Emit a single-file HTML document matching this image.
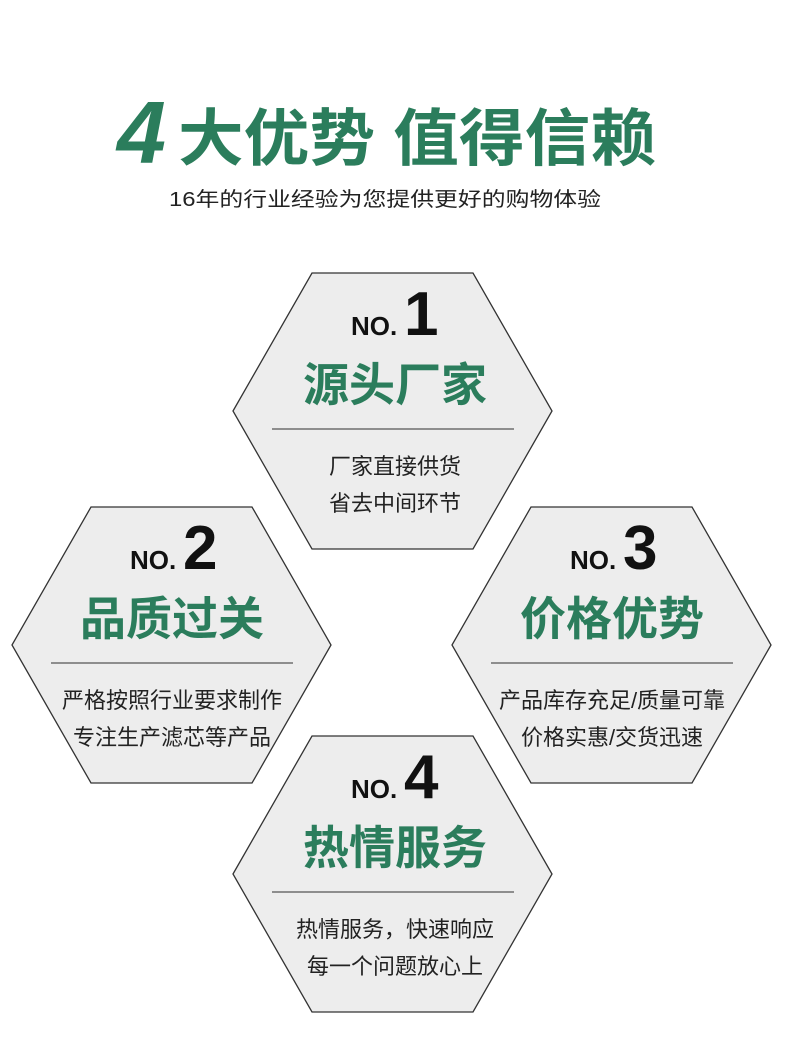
<!DOCTYPE html>
<html><head><meta charset="utf-8"><style>
body{margin:0;background:#fff;}
svg{display:block;}
text{font-family:"Liberation Sans","Noto Sans CJK SC",sans-serif;}
</style></head><body>
<svg width="790" height="1052" viewBox="0 0 790 1052" xmlns="http://www.w3.org/2000/svg">
<rect width="790" height="1052" fill="#fff"/>
<text x="117" y="163" font-size="88" font-weight="bold" font-style="italic" fill="#2b7d5c">4</text>
<text x="178" y="160" font-size="62" font-weight="bold" fill="#2b7d5c" textLength="478" lengthAdjust="spacingAndGlyphs">大优势 值得信赖</text>
<text x="385" y="206" font-size="20" fill="#222" text-anchor="middle" textLength="432" lengthAdjust="spacingAndGlyphs">16年的行业经验为您提供更好的购物体验</text>
<defs>
<g id="hex">
<polygon points="233,411 312,273 473,273 552,411 473,549 312,549" fill="#ededed" stroke="#333" stroke-width="1.3"/>
<line x1="272" y1="429" x2="514" y2="429" stroke="#555" stroke-width="1.2"/>
</g>
</defs>
<g>
<use href="#hex"/>
<text x="351" y="335" font-size="26" font-weight="bold" fill="#111">NO.</text>
<text x="404" y="335" font-size="62" font-weight="bold" fill="#111">1</text>
<text x="395" y="401" font-size="46" font-weight="bold" fill="#2b7d5c" text-anchor="middle">源头厂家</text>
<text x="395" y="474" font-size="22" fill="#222" text-anchor="middle">厂家直接供货</text>
<text x="395" y="511" font-size="22" fill="#222" text-anchor="middle">省去中间环节</text>
</g>
<g transform="translate(-221,234)">
<use href="#hex"/>
<text x="351" y="335" font-size="26" font-weight="bold" fill="#111">NO.</text>
<text x="404" y="335" font-size="62" font-weight="bold" fill="#111">2</text>
<text x="393" y="401" font-size="46" font-weight="bold" fill="#2b7d5c" text-anchor="middle">品质过关</text>
<text x="393" y="474" font-size="22" fill="#222" text-anchor="middle">严格按照行业要求制作</text>
<text x="393" y="511" font-size="22" fill="#222" text-anchor="middle">专注生产滤芯等产品</text>
</g>
<g transform="translate(219,234)">
<use href="#hex"/>
<text x="351" y="335" font-size="26" font-weight="bold" fill="#111">NO.</text>
<text x="404" y="335" font-size="62" font-weight="bold" fill="#111">3</text>
<text x="393" y="401" font-size="46" font-weight="bold" fill="#2b7d5c" text-anchor="middle">价格优势</text>
<text x="393" y="474" font-size="22" fill="#222" text-anchor="middle">产品库存充足/质量可靠</text>
<text x="393" y="511" font-size="22" fill="#222" text-anchor="middle">价格实惠/交货迅速</text>
</g>
<g transform="translate(0,463)">
<use href="#hex"/>
<text x="351" y="335" font-size="26" font-weight="bold" fill="#111">NO.</text>
<text x="404" y="335" font-size="62" font-weight="bold" fill="#111">4</text>
<text x="395" y="401" font-size="46" font-weight="bold" fill="#2b7d5c" text-anchor="middle">热情服务</text>
<text x="395" y="474" font-size="22" fill="#222" text-anchor="middle">热情服务，快速响应</text>
<text x="395" y="511" font-size="22" fill="#222" text-anchor="middle">每一个问题放心上</text>
</g>
</svg>
</body></html>
